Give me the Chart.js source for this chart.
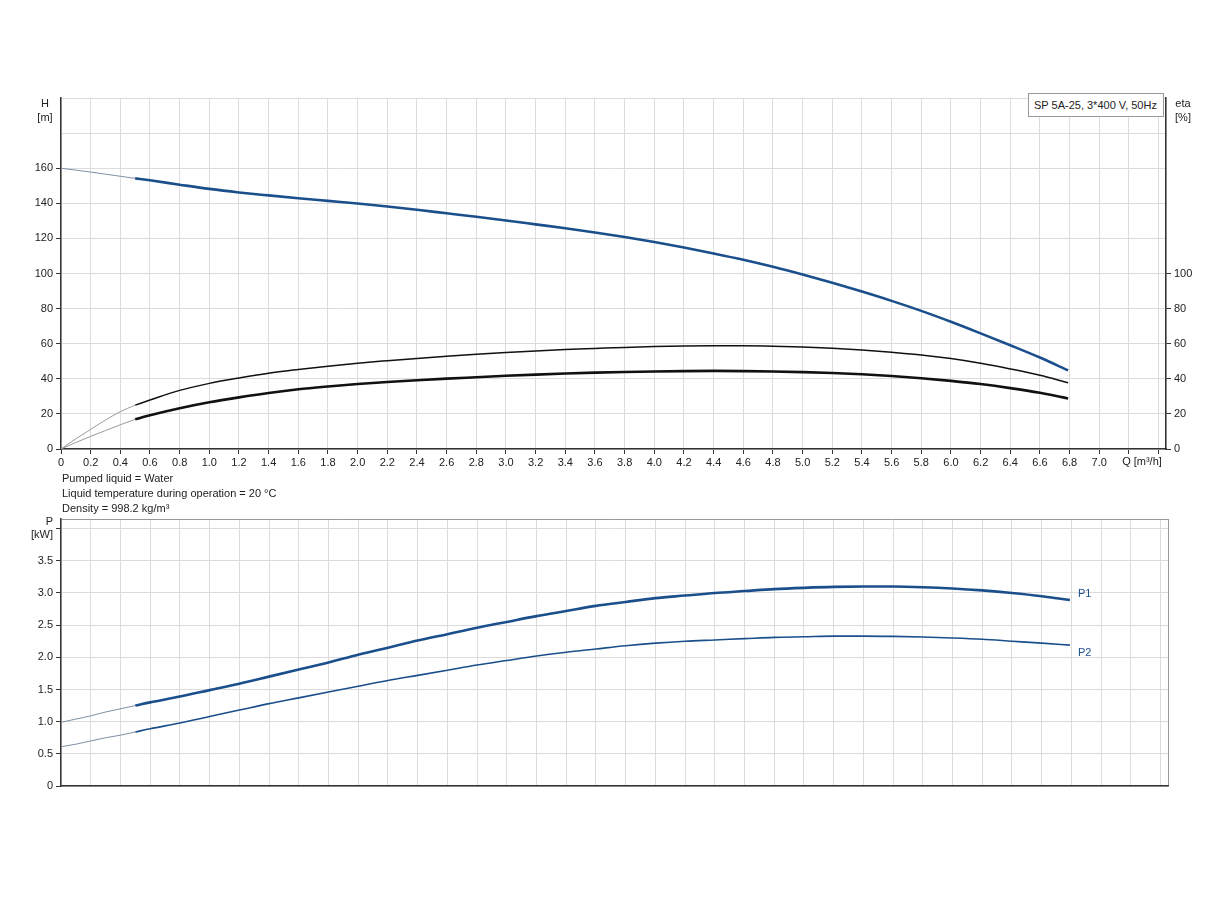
<!DOCTYPE html>
<html>
<head>
<meta charset="utf-8">
<script src="https://cdn.jsdelivr.net/npm/chart.js@4.4.1/dist/chart.umd.min.js"></script>
<style>
  body { margin: 0; background: #fff; font-family: "Liberation Sans", Arial, sans-serif; color: #222; }
  #wrap { position: relative; width: 1224px; height: 900px; }
  canvas { position: absolute; left: 0; }
  .txt { position: absolute; font-size: 11px; line-height: 14px; white-space: nowrap; }
</style>
</head>
<body>
<div id="wrap">
  <canvas id="curvaH" width="1224" height="475" style="top:0"></canvas>
  <canvas id="curvaP" width="1224" height="300" style="top:500px"></canvas>

  <div class="txt" style="left:30px;top:96px;width:30px;text-align:center">H<br>[m]</div>
  <div class="txt" style="left:1168px;top:96px;width:30px;text-align:center">eta<br>[%]</div>
  <div class="txt" style="left:1028px;top:93px;width:129px;height:22px;line-height:22px;padding-left:5px;border:1px solid #999;background:#fff">SP 5A-25, 3*400 V, 50Hz</div>
  <div class="txt" style="left:1110px;top:454px;width:64px;text-align:center">Q [m³/h]</div>
  <div class="txt" style="left:62px;top:471px">Pumped liquid = Water</div>
  <div class="txt" style="left:62px;top:486px">Liquid temperature during operation = 20 °C</div>
  <div class="txt" style="left:62px;top:501px">Density = 998.2 kg/m³</div>
</div>

<script>
// caudal Q [m3/h]
const qInicio = [0, 0.1, 0.2, 0.3, 0.4, 0.5];
const qCurva = [0.5, 0.6, 0.8, 1.0, 1.2, 1.4, 1.6, 1.8, 2.0, 2.2, 2.4, 2.6, 2.8, 3.0, 3.2, 3.4, 3.6,
                3.8, 4.0, 4.2, 4.4, 4.6, 4.8, 5.0, 5.2, 5.4, 5.6, 5.8, 6.0, 6.2, 6.4, 6.6, 6.79];

// altura H [m]
const hInicio = [160, 158.9, 157.8, 156.6, 155.4, 154.2];
const hCurva = [154.2, 153.1, 150.6, 148.2, 146.2, 144.5, 142.9, 141.4, 139.9, 138.2, 136.3, 134.3, 132.3,
                130.2, 128.0, 125.8, 123.4, 120.8, 117.9, 114.8, 111.4, 107.8, 103.8, 99.4, 94.7, 89.7,
                84.4, 78.7, 72.5, 65.9, 59.1, 52.1, 44.8];

// rendimiento eta [%] (bomba y total)
const etaBombaInicio = [0, 5.8, 11.2, 16.5, 21.3, 25.0];
const etaBomba = [25.0, 27.9, 33.4, 37.4, 40.5, 43.2, 45.3, 47.2, 48.9, 50.3, 51.6, 52.9, 54.0, 55.0,
                  55.9, 56.7, 57.3, 57.9, 58.4, 58.7, 58.8, 58.8, 58.6, 58.1, 57.4, 56.4, 55.1, 53.6,
                  51.5, 48.8, 45.6, 42.0, 37.8];
const etaTotalInicio = [0, 3.7, 7.2, 10.5, 13.8, 16.9];
const etaTotal = [16.9, 19.2, 23.2, 26.6, 29.4, 31.9, 34.0, 35.6, 37.0, 38.2, 39.2, 40.1, 40.9, 41.7,
                  42.4, 43.0, 43.5, 43.9, 44.2, 44.4, 44.5, 44.4, 44.2, 43.8, 43.3, 42.6, 41.6, 40.3,
                  38.8, 37.0, 34.7, 32.0, 28.8];

// potencia P [kW]
const p1Inicio = [0.99, 1.04, 1.09, 1.15, 1.20, 1.25];
const p1Curva = [1.25, 1.30, 1.39, 1.49, 1.59, 1.70, 1.81, 1.92, 2.04, 2.15, 2.26, 2.36, 2.46, 2.55,
                 2.64, 2.72, 2.80, 2.86, 2.92, 2.96, 3.00, 3.03, 3.06, 3.08, 3.095, 3.10, 3.10, 3.09,
                 3.07, 3.04, 3.00, 2.95, 2.89];
const p2Inicio = [0.61, 0.65, 0.70, 0.75, 0.79, 0.84];
const p2Curva = [0.84, 0.89, 0.98, 1.08, 1.18, 1.28, 1.37, 1.46, 1.55, 1.64, 1.72, 1.80, 1.88, 1.95,
                 2.02, 2.08, 2.13, 2.18, 2.22, 2.25, 2.27, 2.29, 2.31, 2.32, 2.33, 2.33, 2.325, 2.315,
                 2.30, 2.28, 2.25, 2.22, 2.19];

// marcas de los ejes
const marcasQ = [0, 0.2, 0.4, 0.6, 0.8, 1.0, 1.2, 1.4, 1.6, 1.8, 2.0, 2.2, 2.4, 2.6, 2.8, 3.0, 3.2, 3.4,
                 3.6, 3.8, 4.0, 4.2, 4.4, 4.6, 4.8, 5.0, 5.2, 5.4, 5.6, 5.8, 6.0, 6.2, 6.4, 6.6, 6.8,
                 7.0, 7.2, 7.4, 7.45];
const marcasP = [0, 0.5, 1.0, 1.5, 2.0, 2.5, 3.0, 3.5, 4.0, 4.15];

const azul = '#1b4f8c';
const grilla = '#dcdcdc';
const fuente = { family: '"Liberation Sans", Arial, sans-serif', size: 11 };

function puntos(xs, ys) {
    return xs.map((x, i) => ({ x: x, y: ys[i] }));
}

function serie(xs, ys, color, ancho, extra) {
    return Object.assign({
        data: puntos(xs, ys),
        borderColor: color,
        borderWidth: ancho,
        pointRadius: 0,
        fill: false,
        cubicInterpolationMode: 'monotone'
    }, extra || {});
}

function numero(v) {
    const r = Math.round(v * 10) / 10;
    return r === 0 ? '0' : r.toFixed(1);
}

// etiquetas P1 / P2 al final de cada curva
const etiquetaFinal = {
    id: 'etiquetaFinal',
    afterDatasetsDraw(chart) {
        const ctx = chart.ctx;
        chart.data.datasets.forEach((ds, i) => {
            if (!ds.etiqueta) return;
            const pts = chart.getDatasetMeta(i).data;
            const ult = pts[pts.length - 1];
            ctx.save();
            ctx.font = '11px "Liberation Sans", Arial, sans-serif';
            ctx.fillStyle = azul;
            ctx.textBaseline = 'middle';
            ctx.fillText(ds.etiqueta, ult.x + 8, ult.y + ds.desplazamiento);
            ctx.restore();
        });
    }
};

new Chart(document.getElementById('curvaH').getContext('2d'), {
    type: 'line',
    data: {
        datasets: [
            serie(qInicio, hInicio, '#7f8fa6', 1, { yAxisID: 'yH' }),
            serie(qCurva, hCurva, azul, 2.6, { yAxisID: 'yH' }),
            serie(qInicio, etaBombaInicio, '#9a9a9a', 1, { yAxisID: 'yEta' }),
            serie(qCurva, etaBomba, '#111', 1.5, { yAxisID: 'yEta' }),
            serie(qInicio, etaTotalInicio, '#9a9a9a', 1, { yAxisID: 'yEta' }),
            serie(qCurva, etaTotal, '#111', 2.6, { yAxisID: 'yEta' })
        ]
    },
    options: {
        responsive: false,
        animation: false,
        layout: { padding: { top: 98, left: 0, right: 0, bottom: 0 } },
        plugins: { legend: { display: false }, tooltip: { enabled: false } },
        scales: {
            x: {
                type: 'linear',
                min: 0,
                max: 7.45,
                afterBuildTicks: s => { s.ticks = marcasQ.map(v => ({ value: v })); },
                ticks: { autoSkip: false, maxRotation: 0, color: '#222', font: fuente, padding: 2,
                         callback: v => (v > 7.05 ? '' : numero(v)) },
                grid: { color: grilla, tickLength: 5,
                        tickColor: c => (c.tick && c.tick.value > 7.42 ? 'rgba(0,0,0,0)' : '#333') },
                border: { color: '#333', width: 1.5 },
                afterFit: s => { s.height = 26; }
            },
            yH: {
                position: 'left',
                min: 0,
                max: 200,
                ticks: { stepSize: 20, color: '#222', font: fuente, padding: 3,
                         callback: v => (v <= 160 ? String(v) : '') },
                grid: { color: grilla, tickLength: 5,
                        tickColor: c => (c.tick && c.tick.value <= 160 ? '#333' : 'rgba(0,0,0,0)') },
                border: { color: '#333', width: 1.5 },
                afterFit: s => { s.width = 61; }
            },
            yEta: {
                position: 'right',
                min: 0,
                max: 200,
                ticks: { stepSize: 20, color: '#222', font: fuente, padding: 3,
                         callback: v => (v <= 100 ? String(v) : '') },
                grid: { drawOnChartArea: false, tickLength: 5,
                        tickColor: c => (c.tick && c.tick.value <= 100 ? '#333' : 'rgba(0,0,0,0)') },
                border: { color: '#333', width: 1.5 },
                afterFit: s => { s.width = 58; }
            }
        }
    }
});

new Chart(document.getElementById('curvaP').getContext('2d'), {
    type: 'line',
    data: {
        datasets: [
            serie(qInicio, p1Inicio, '#7f8fa6', 1),
            serie(qCurva, p1Curva, azul, 2.6, { etiqueta: 'P1', desplazamiento: -6 }),
            serie(qInicio, p2Inicio, '#7f8fa6', 1),
            serie(qCurva, p2Curva, azul, 1.6, { etiqueta: 'P2', desplazamiento: 8 })
        ]
    },
    options: {
        responsive: false,
        animation: false,
        layout: { padding: { top: 19, left: 0, right: 56, bottom: 0 } },
        plugins: { legend: { display: false }, tooltip: { enabled: false } },
        scales: {
            x: {
                type: 'linear',
                min: 0,
                max: 7.45,
                afterBuildTicks: s => { s.ticks = marcasQ.map(v => ({ value: v })); },
                ticks: { autoSkip: false, display: false },
                grid: { color: c => (c.tick && c.tick.value > 7.42 ? '#999' : grilla), drawTicks: false },
                border: { color: '#333', width: 1.5 },
                afterFit: s => { s.height = 14; }
            },
            y: {
                min: 0,
                max: 4.15,
                afterBuildTicks: s => { s.ticks = marcasP.map(v => ({ value: v })); },
                ticks: { color: '#222', font: fuente, padding: 3,
                         callback: v => (v > 4.05 ? '' : (Math.abs(v - 4) < 0.01 ? ['P', '[kW]'] : numero(v))) },
                grid: { color: c => (c.tick && c.tick.value > 4.05 ? '#999' : grilla), tickLength: 5,
                        tickColor: c => (c.tick && c.tick.value > 4.05 ? 'rgba(0,0,0,0)' : '#333') },
                border: { color: '#333', width: 1.5 },
                afterFit: s => { s.width = 61; }
            }
        }
    },
    plugins: [etiquetaFinal]
});
</script>
</body>
</html>
